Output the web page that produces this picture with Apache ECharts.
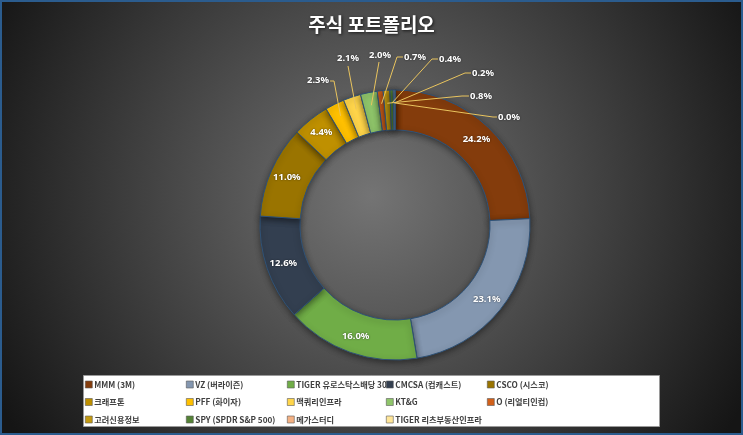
<!DOCTYPE html>
<html>
<head>
<meta charset="utf-8">
<script src="https://cdn.jsdelivr.net/npm/echarts@6/dist/echarts.min.js"></script>
<style>
  html, body { margin: 0; padding: 0; background: #1c1c1c; }
  #chart { width: 743px; height: 435px; }
</style>
</head>
<body>
<div id="chart"></div>
<script>
// 종목명 (legend order = slice order, clockwise from 12 o'clock)
const holdings = [
  'MMM (3M)', 'VZ (버라이즌)', 'TIGER 유로스탁스배당 30', 'CMCSA (컴캐스트)', 'CSCO (시스코)',
  '크래프톤', 'PFF (화이자)', '맥쿼리인프라', 'KT&G', 'O (리얼티인컴)',
  '고려신용정보', 'SPY (SPDR S&P 500)', '메가스터디', 'TIGER 리츠부동산인프라'
]
// 비중 (%)
const shares = [24.2, 23.1, 16.0, 12.6, 11.0, 4.4, 2.3, 2.1, 2.0, 0.7, 0.8, 0.4, 0.2, 0.0]

const sliceColors = [
  '#843C0C', '#8497B0', '#70AD47', '#333F50', '#9A7400',
  '#BF9000', '#FFC000', '#FFD54A', '#8FC56A', '#D2601A',
  '#C39A12', '#548235', '#F4B183', '#FFE699'
]

const pieCenter = [395, 225]
const ringRadius = [95, 135]
// 작은 조각의 라벨 자리 (label centre + leader elbow points)
const callouts = {
  6: { at: [318, 80], path: [[334, 81], [330, 81]] },
  7: { at: [348, 58], path: [[348, 66]] },
  8: { at: [380, 55], path: [[379, 62]] },
  9: { at: [415, 57], path: [[397, 57], [403, 57]] },
  10: { at: [481, 96], path: [[462, 96], [469, 96]] },
  11: { at: [450, 59], path: [[432, 59], [438, 59]] },
  12: { at: [483, 73], path: [[465, 73], [471, 73]] },
  13: { at: [509, 117], path: [[493, 117], [497, 117]] }
}

// 범례: 5열, 열 왼쪽 위치
const legendCols = [85, 186, 287, 386, 487]

const total = shares.reduce((a, b) => a + b, 0)
// 조각 가운데 각도 (top, clockwise)
const midAngle = (i) => {
  let before = 0
  for (let k = 0; k < i; k++) before += shares[k]
  return ((before + shares[i] / 2) / total) * Math.PI * 2
}

const labelFont = {
  color: '#ffffff',
  fontSize: 9.5,
  fontWeight: 'bold',
  fontFamily: 'Noto Sans',
  textShadowColor: 'rgba(0,0,0,0.6)',
  textShadowBlur: 2,
  formatter: (p) => p.value.toFixed(1) + '%'
}

// 링 (inside labels only)
const ringData = holdings.map((name, i) => ({
  name,
  value: shares[i],
  itemStyle: { color: sliceColors[i] },
  label: { show: !callouts[i] }
}))

// 위에 겹친 투명 링: leader line 이 조각 위에 그려지도록
const calloutData = holdings.map((name, i) => ({
  name,
  value: shares[i],
  label: { show: !!callouts[i] },
  labelLine: { show: !!callouts[i] }
}))

const legends = legendCols.map((x, c) => ({
  data: holdings.filter((_, i) => i % 5 === c),
  orient: 'vertical',
  left: x,
  top: 379,
  padding: 0,
  itemGap: 6.5,
  icon: 'rect',
  itemWidth: 7,
  itemHeight: 7,
  itemStyle: { borderWidth: 0.6, borderColor: '#5a5a5a' },
  selectedMode: false,
  textStyle: {
    color: '#404040',
    fontSize: 8.2,
    fontWeight: 'bold',
    fontFamily: 'Noto Sans CJK KR',
    lineHeight: 11,
    padding: [0, 0, 0, -3]
  }
}))

const chart = echarts.init(document.getElementById('chart'))

const option = {
  backgroundColor: new echarts.graphic.RadialGradient(0.5, 0.45, 0.98, [
    { offset: 0, color: '#747474' },
    { offset: 1, color: '#151515' }
  ]),
  animation: false,
  title: {
    text: '주식 포트폴리오',
    left: 'center',
    top: 10,
    textStyle: {
      color: '#ffffff',
      fontSize: 19,
      fontWeight: 'bold',
      fontFamily: 'Noto Sans CJK KR',
      textShadowColor: 'rgba(0,0,0,0.7)',
      textShadowBlur: 3,
      textShadowOffsetX: 1,
      textShadowOffsetY: 1
    }
  },
  legend: legends,
  graphic: [
    {
      type: 'rect',
      silent: true,
      z: 0,
      shape: { x: 83.5, y: 375.5, width: 576, height: 51 },
      style: { fill: '#ffffff', stroke: '#9a9a9a', lineWidth: 1 }
    },
    {
      type: 'rect',
      silent: true,
      z: 100,
      shape: { x: 1, y: 1, width: 741, height: 433 },
      style: { fill: null, stroke: '#2b5c8e', lineWidth: 2 }
    }
  ],
  series: [
    {
      name: 'ring',
      type: 'pie',
      z: 2,
      center: pieCenter,
      radius: ringRadius,
      startAngle: 90,
      clockwise: true,
      avoidLabelOverlap: false,
      itemStyle: {
        borderColor: '#2f5277',
        borderWidth: 1,
        shadowBlur: 6,
        shadowColor: 'rgba(0,0,0,0.45)',
        shadowOffsetY: 2
      },
      label: Object.assign({ show: true, position: 'inside' }, labelFont),
      labelLine: { show: false },
      data: ringData
    },
    {
      name: 'callouts',
      type: 'pie',
      z: 5,
      silent: true,
      center: pieCenter,
      radius: ringRadius,
      startAngle: 90,
      clockwise: true,
      avoidLabelOverlap: false,
      itemStyle: { color: 'rgba(0,0,0,0)', borderWidth: 0 },
      label: Object.assign({ show: true, position: 'outside' }, labelFont),
      labelLine: {
        show: true,
        length: 8,
        length2: 6,
        lineStyle: { color: '#E9C45E', width: 1 }
      },
      labelLayout: (params) => {
        const c = callouts[params.dataIndex]
        if (!c) return {}
        const a = midAngle(params.dataIndex)
        const r = 122
        const start = [pieCenter[0] + r * Math.sin(a), pieCenter[1] - r * Math.cos(a)]
        const pts = [start].concat(c.path)
        while (pts.length < 3) pts.push(pts[pts.length - 1])
        return {
          x: c.at[0],
          y: c.at[1],
          align: 'center',
          verticalAlign: 'middle',
          labelLinePoints: pts
        }
      },
      data: calloutData
    }
  ]
}

chart.setOption(option)
</script>
</body>
</html>
